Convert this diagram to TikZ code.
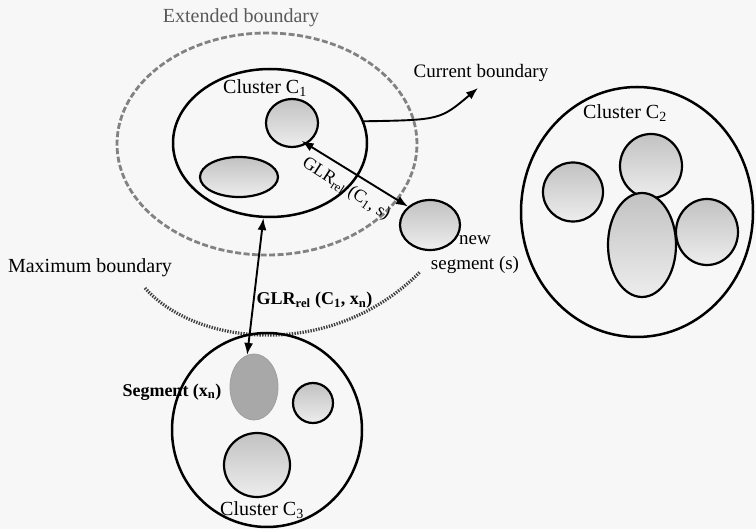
\documentclass[tikz,border=0pt]{standalone}
\usepackage{fontspec}
\setmainfont{Liberation Serif}
\usetikzlibrary{shapes.geometric,arrows.meta}
\tikzset{
  size/.style 2 args={minimum width=#1pt, minimum height=#2pt},
  cluster/.style={ellipse, draw, line width=2.5pt, inner sep=0pt},
  seg/.style={ellipse, draw, line width=2.2pt, inner sep=0pt, top color=gray!48, bottom color=gray!14},
  darkseg/.style={ellipse, draw=gray!75, line width=0.8pt, inner sep=0pt, fill=gray!68},
  lab/.style={font=\fontsize{20}{25}\selectfont, inner sep=1pt},
  smalllab/.style={font=\fontsize{19}{25}\selectfont, inner sep=1pt},
  glrlab/.style={font=\bfseries\fontsize{18}{22}\selectfont, inner sep=2pt},
  glr/.style={{Latex[length=12pt,width=9pt]}-{Latex[length=12pt,width=9pt]}, line width=1.9pt},
  extb/.style={ellipse, draw=gray!60!black!70, line width=2.8pt, dash pattern=on 6pt off 2.5pt, inner sep=0pt},
  maxb/.style={draw=black!75, line width=3.2pt, dash pattern=on 1.4pt off 1.3pt}
}

\begin{document}
\begin{tikzpicture}[x=1pt, y=-1pt, line cap=butt, line join=round]

  % Frame
  \fill[black!3] (0,0) rectangle (756,529);
  \useasboundingbox (0,0) rectangle (756,529);

  % Extended boundary
  \node[extb, size={300}{222}] (ext) at (267,144) {};
  \node[lab, text=gray!70!black] (extlab) at (241,18) {Extended boundary};

  % Cluster C1
  \node[cluster, size={194}{148}] (c1) at (270,143) {};
  \node[lab] (c1lab) at (265,88) {Cluster C\textsubscript{1}};
  \node[seg, size={52}{48}] (c1a) at (292,123) {};
  \node[seg, size={78}{40}] (c1b) at (239,177) {};

  % New segment
  \node[seg, size={60}{50}] (news) at (430,225) {};
  \node[smalllab, align=center] (newslab) at (475,255) {new\\segment (s)};

  % Current boundary
  \node[smalllab] (cblab) at (481,73) {Current boundary};
  \coordinate (cbtip) at (478,88);
  \draw[line width=1.9pt, -{Latex[length=12pt,width=9pt]}]
    (c1.13) .. controls (440,120) .. (cbtip);

  % Cluster C2
  \node[cluster, size={232}{250}] (c2) at (637,212) {};
  \node[lab] (c2lab) at (625,113) {Cluster C\textsubscript{2}};
  \node[seg, size={60}{59}] (c2a) at (573,192) {};
  \node[seg, size={62}{64}] (c2b) at (651,166) {};
  \node[seg, size={62}{66}] (c2d) at (707,232) {};
  \node[seg, size={68}{104}] (c2c) at (642,245) {};

  % Maximum boundary
  \node[lab] (maxlab) at (90,268) {Maximum boundary};
  \draw[maxb] (145,288) .. controls (195,345) and (330,362) .. (420,272);

  % Cluster C3
  \node[cluster, size={190}{194}] (c3) at (267,430) {};
  \node[lab] (c3lab) at (262,510) {Cluster C\textsubscript{3}};
  \node[darkseg, size={48}{66}] (xn) at (254,387) {};
  \node[seg, size={40}{40}] (c3a) at (313,403) {};
  \node[seg, size={66}{64}] (c3b) at (257,465) {};
  \node[glrlab] (xnlab) at (172,392) {Segment (x\textsubscript{n})};

  % GLR arrows
  \draw[glr, shorten <=-6pt] (c1a.-55) -- (news.140);
  \node[smalllab, font=\fontsize{18}{22}\selectfont, rotate=-33] (glrs) at (346,189)
    {GLR\textsubscript{rel} (C\textsubscript{1}, s)};
  \draw[glr] (c1.265) -- (xn.102)
    node[glrlab, pos=0.6, anchor=west] (glrx) {GLR\textsubscript{rel} (C\textsubscript{1}, x\textsubscript{n})};

\end{tikzpicture}
\end{document}
